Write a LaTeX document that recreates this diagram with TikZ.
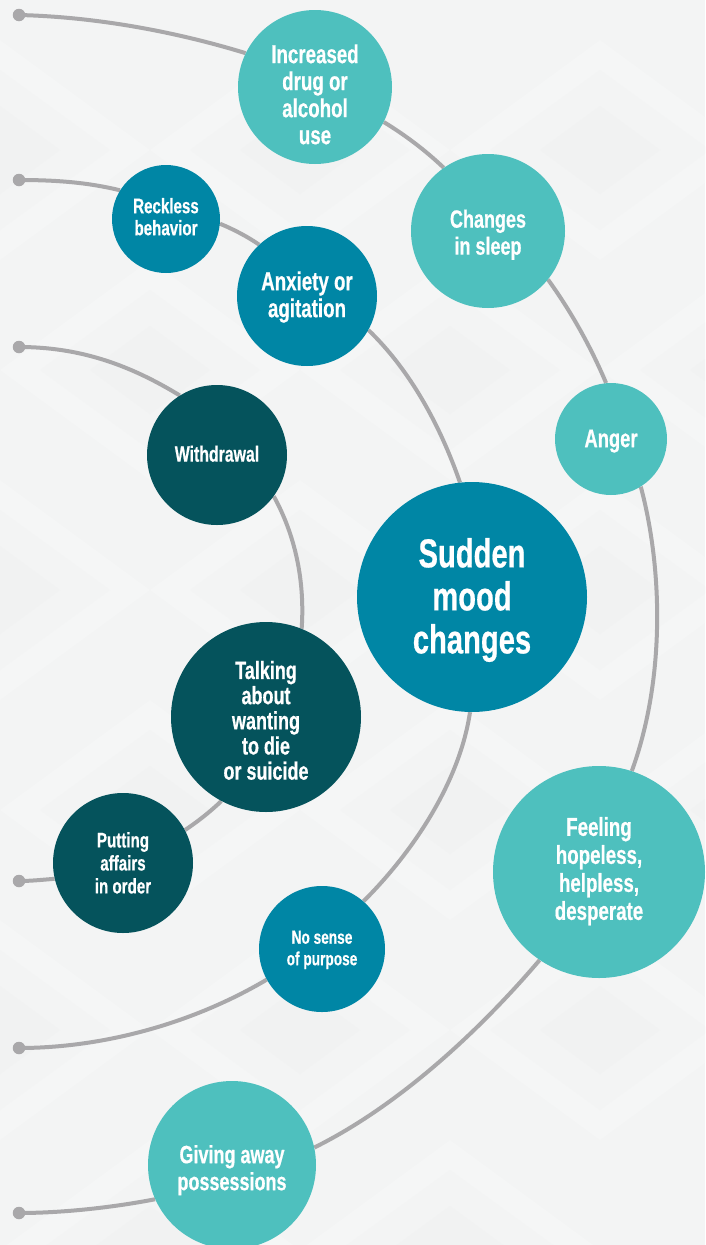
\documentclass[tikz,border=0pt]{standalone}
\usepackage{fontspec}
\setmainfont[FakeStretch=0.72,BoldFont={Liberation Sans Bold},BoldFeatures={FakeStretch=0.72,FakeBold=0.5}]{Liberation Sans}
\definecolor{pagebg}{HTML}{F3F4F4}
\definecolor{pagelt}{HTML}{F5F6F6}
\definecolor{pagedk}{HTML}{F1F2F2}
\definecolor{tealc}{HTML}{4EC0BE}
\definecolor{bluec}{HTML}{0086A5}
\definecolor{darkc}{HTML}{05535C}
\definecolor{linec}{HTML}{A9A8AA}
\pgfdeclarelayer{bglayer}
\pgfdeclarelayer{connlayer}
\pgfsetlayers{bglayer,connlayer,main}
\newcommand{\lb}[2]{\raisebox{#1}[0pt][0pt]{\begin{tabular}{@{}c@{}}#2\end{tabular}}}
\newcommand{\fs}[2]{\fontsize{#1}{#2}\selectfont\bfseries}
\tikzset{
  bub/.style={circle,inner sep=0pt,text=white},
  tealbub/.style={bub,fill=tealc},
  bluebub/.style={bub,fill=bluec},
  darkbub/.style={bub,fill=darkc},
  enddot/.style={circle,fill=linec,inner sep=0pt,minimum size=12.5pt},
  conn/.style={draw=linec,line width=4pt}
}
\begin{document}
\begin{tikzpicture}[x=1pt,y=-1pt]
\useasboundingbox (0,0) rectangle (705,1245);
% end dots
\node[enddot] (d1) at (19,15) {};
\node[enddot] (d2) at (19,180) {};
\node[enddot] (d3) at (19,347) {};
\node[enddot] (d4) at (19,881) {};
\node[enddot] (d5) at (19,1048) {};
\node[enddot] (d6) at (19,1213) {};
% bubbles
\node[tealbub,minimum size=154pt,font=\fs{26}{27}] (inc) at (315,87) {\lb{-17.5pt}{Increased\\drug or\\alcohol\\use}};
\node[tealbub,minimum size=154pt,font=\fs{25}{27}] (chg) at (488,231) {\lb{-11pt}{Changes\\in sleep}};
\node[tealbub,minimum size=112pt,font=\fs{25.5}{27}] (ang) at (611,439) {\lb{-9pt}{Anger}};
\node[tealbub,minimum size=212pt,font=\fs{26}{28}] (fee) at (599,872) {\lb{-6.5pt}{Feeling\\hopeless,\\helpless,\\desperate}};
\node[tealbub,minimum size=168pt,font=\fs{25}{27}] (giv) at (232,1165) {\lb{-12.5pt}{Giving away\\possessions}};
\node[bluebub,minimum size=108pt,font=\fs{21}{22}] (rec) at (166,219) {\lb{-6pt}{Reckless\\behavior}};
\node[bluebub,minimum size=140pt,font=\fs{26}{27}] (anx) at (307,296) {\lb{-8.5pt}{Anxiety or\\agitation}};
\node[bluebub,minimum size=230pt,font=\fs{40.5}{43}] (sud) at (472,597) {\lb{-11pt}{Sudden\\mood\\changes}};
\node[bluebub,minimum size=126pt,font=\fs{19}{21.5}] (nos) at (322,949) {\lb{-5.5pt}{No sense\\of purpose}};
\node[darkbub,minimum size=140pt,font=\fs{22}{24}] (wit) at (217,455) {\lb{-7pt}{Withdrawal}};
\node[darkbub,minimum size=190pt,font=\fs{25}{23.5}] (tal) at (266,717) {\lb{-13pt}{Talking\\about\\wanting\\to die\\or suicide}};
\node[darkbub,minimum size=140pt,font=\fs{21}{23}] (put) at (123,863) {\lb{-8pt}{Putting\\affairs\\in order}};
% background
\begin{pgfonlayer}{bglayer}
\fill[pagebg] (0,0) rectangle (705,1245);
\begin{scope}
\clip (0,0) rectangle (705,1245);
\foreach \cx/\cy in {0/150,300/150,600/150,150/370,450/370,750/370,0/590,300/590,600/590,150/810,450/810,750/810,0/1030,300/1030,600/1030,150/1250,450/1250}{
  \fill[pagelt] (\cx-150,\cy) -- (\cx,\cy-110) -- (\cx+150,\cy) -- (\cx,\cy+110) -- cycle;
  \fill[pagebg] (\cx-110,\cy) -- (\cx,\cy-80) -- (\cx+110,\cy) -- (\cx,\cy+80) -- cycle;
  \fill[pagedk] (\cx-60,\cy) -- (\cx,\cy-44) -- (\cx+60,\cy) -- (\cx,\cy+44) -- cycle;
}
\end{scope}
\end{pgfonlayer}
% connectors
\begin{pgfonlayer}{connlayer}
\draw[conn] (d1.center) .. controls (100,17) and (180,33) .. (inc.154);
\draw[conn] (inc.-27) .. controls (405,135) and (425,150) .. (chg.125);
\draw[conn] (chg.-39) .. controls (570,310) and (590,345) .. (ang.95);
\draw[conn] (ang.-58) .. controls (663,570) and (665,680) .. (fee.72);
\draw[conn] (fee.-124) .. controls (480,1030) and (400,1105) .. (giv.12);
\draw[conn] (giv.-156) .. controls (110,1208) and (60,1213) .. (d6.center);
\draw[conn] (d2.center) .. controls (60,180) and (90,183) .. (rec.148);
\draw[conn] (rec.-5) .. controls (235,230) and (248,237) .. (anx.133);
\draw[conn] (anx.-29) .. controls (410,370) and (440,425) .. (sud.96);
\draw[conn] (sud.-91) .. controls (460,780) and (415,850) .. (nos.49);
\draw[conn] (nos.-151) .. controls (190,1025) and (100,1048) .. (d5.center);
\draw[conn] (d3.center) .. controls (80,347) and (130,365) .. (wit.122);
\draw[conn] (wit.-36) .. controls (295,535) and (305,580) .. (tal.68);
\draw[conn] (tal.-118) .. controls (212,810) and (200,820) .. (put.28);
\draw[conn] (put.-167) .. controls (40,880) and (30,881) .. (d4.center);
\end{pgfonlayer}
\end{tikzpicture}
\end{document}
